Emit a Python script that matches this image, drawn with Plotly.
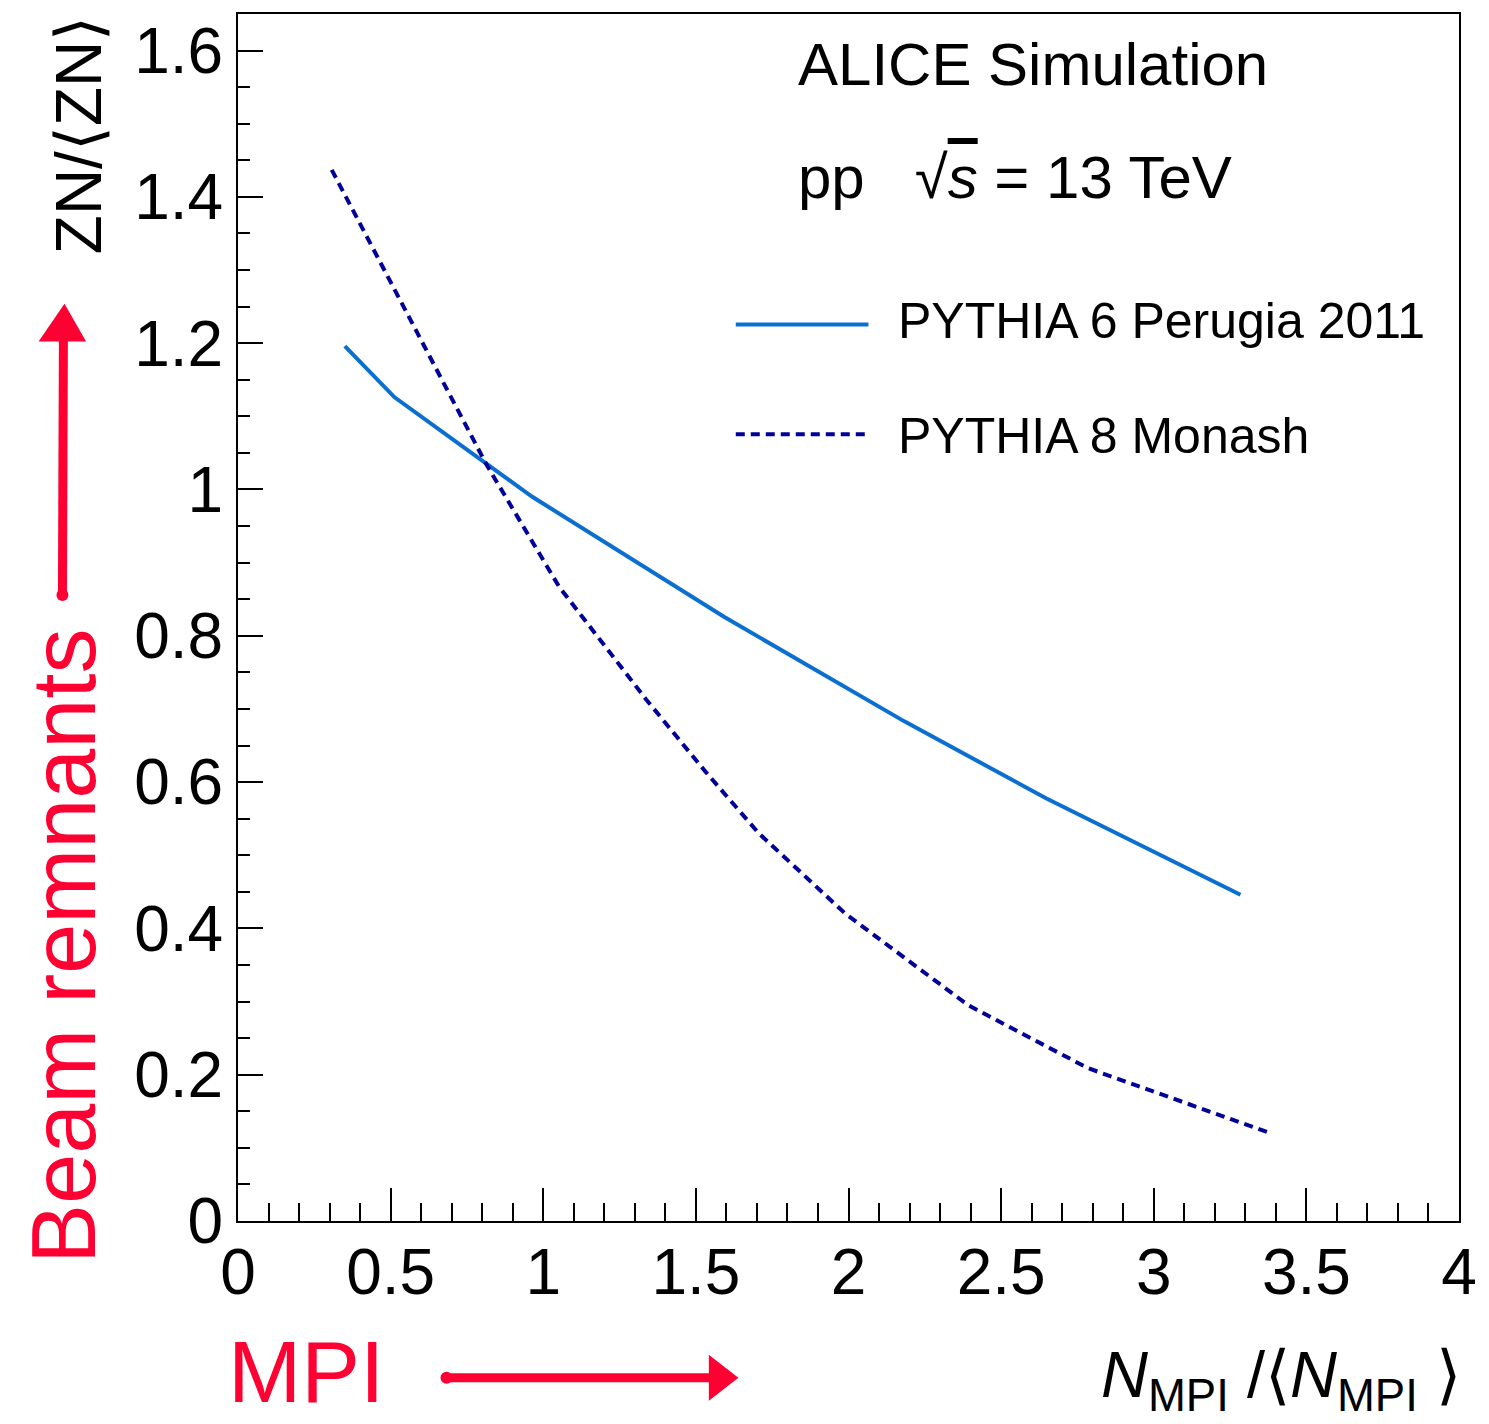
import plotly.graph_objects as go

# ZN/<ZN> versus N_MPI/<N_MPI> from two PYTHIA tunes
p6_x = [0.350, 0.513, 0.964, 1.592, 2.183, 2.647, 3.284]
p6_y = [1.196, 1.126, 0.990, 0.826, 0.683, 0.578, 0.446]

p8_x = [0.307, 0.814, 1.052, 1.337, 1.530, 1.706, 1.990, 2.392, 2.784, 3.382]
p8_y = [1.437, 1.034, 0.867, 0.713, 0.615, 0.530, 0.420, 0.295, 0.209, 0.120]

x_tick_vals = [0, 0.5, 1, 1.5, 2, 2.5, 3, 3.5, 4]
x_tick_text = ["0", "0.5", "1", "1.5", "2", "2.5", "3", "3.5", "4"]
y_tick_vals = [0, 0.2, 0.4, 0.6, 0.8, 1.0, 1.2, 1.4, 1.6]
y_tick_text = ["0", "0.2", "0.4", "0.6", "0.8", "1", "1.2", "1.4", "1.6"]

series_names = ["PYTHIA 6 Perugia 2011", "PYTHIA 8 Monash"]

W, H = 1489, 1424
ML, MR, MT, MB = 238, 27, 12, 203
PW, PH = W - ML - MR, H - MT - MB

FONT = "Liberation Sans, Arial, Helvetica, sans-serif"
BLUE = "#0a6fd0"
NAVY = "#000099"
RED = "#ff0033"


def px(xp):
    return (xp - ML) / PW


def py(yp):
    return (H - MB - yp) / PH


fig = go.Figure()
fig.add_trace(go.Scatter(x=p6_x, y=p6_y, mode="lines", name=series_names[0],
                         line=dict(color=BLUE, width=4), showlegend=False))
fig.add_trace(go.Scatter(x=p8_x, y=p8_y, mode="lines", name=series_names[1],
                         line=dict(color=NAVY, width=4, dash="9px,6px"), showlegend=False))

axis_common = dict(showline=True, linecolor="black", linewidth=2, mirror=True,
                   showgrid=False, zeroline=False, ticks="inside", tickcolor="black",
                   tickwidth=2, tickfont=dict(family=FONT, size=64, color="black"))

fig.update_xaxes(range=[0, 4], tickvals=x_tick_vals, ticktext=x_tick_text,
                 ticklen=33, ticklabelstandoff=-6,
                 minor=dict(ticks="inside", ticklen=18, dtick=0.1, tick0=0,
                            tickcolor="black", tickwidth=2, showgrid=False),
                 **axis_common)
fig.update_yaxes(range=[0, 1.65], tickvals=y_tick_vals, ticktext=y_tick_text,
                 ticklen=25, ticklabelstandoff=0,
                 minor=dict(ticks="inside", ticklen=12, dtick=0.05, tick0=0,
                            tickcolor="black", tickwidth=2, showgrid=False),
                 **axis_common)

annotations = [
    dict(text="ALICE Simulation", x=px(797), y=py(63), xanchor="left", yanchor="middle",
         font=dict(size=60)),
    dict(text="pp   √<span style='text-decoration:overline'><i>s</i></span> = 13 TeV",
         x=px(797), y=py(176), xanchor="left", yanchor="middle", font=dict(size=60)),
    dict(text=series_names[0], x=px(898), y=py(320), xanchor="left", yanchor="middle",
         font=dict(size=50)),
    dict(text=series_names[1], x=px(898), y=py(435), xanchor="left", yanchor="middle",
         font=dict(size=50)),
    dict(text="<i>N</i><sub>MPI</sub> /⟨<i>N</i><sub>MPI</sub> ⟩", x=px(1466), y=py(1380),
         xanchor="right", yanchor="middle", font=dict(size=65)),
    dict(text="ZN/⟨ZN⟩", x=px(78), y=py(133), xanchor="center", yanchor="middle",
         textangle=-90, font=dict(size=64)),
    dict(text="Beam remnants", x=px(64), y=py(946), xanchor="center", yanchor="middle",
         textangle=-90, font=dict(size=90, color=RED)),
    dict(text="MPI", x=px(306), y=py(1423), xanchor="center", yanchor="bottom",
         font=dict(size=88, color=RED)),
]
for a in annotations:
    a.update(xref="paper", yref="paper", showarrow=False)
    a["font"].setdefault("color", "black")
    a["font"]["family"] = FONT

shapes = [
    # legend samples
    dict(type="line", x0=px(737), x1=px(870), y0=py(323), y1=py(323),
         line=dict(color=BLUE, width=4)),
    dict(type="line", x0=px(737), x1=px(870), y0=py(433), y1=py(433),
         line=dict(color=NAVY, width=4, dash="9px,6px")),
    # vertical red arrow
    dict(type="line", x0=px(62), x1=px(63), y0=py(592), y1=py(332),
         line=dict(color=RED, width=9)),
    dict(type="path", path=f"M {px(64)} {py(304)} L {px(40)} {py(339)} L {px(84)} {py(339)} Z",
         fillcolor=RED, line=dict(color=RED, width=2)),
    dict(type="circle", x0=px(56), x1=px(68), y0=py(588), y1=py(600),
         fillcolor=RED, line=dict(color=RED, width=0)),
    # horizontal red arrow
    dict(type="line", x0=px(447), x1=px(714), y0=py(1378), y1=py(1378),
         line=dict(color=RED, width=9)),
    dict(type="path", path=f"M {px(738)} {py(1378)} L {px(711)} {py(1357)} L {px(711)} {py(1399)} Z",
         fillcolor=RED, line=dict(color=RED, width=2)),
    dict(type="circle", x0=px(441), x1=px(453), y0=py(1372), y1=py(1384),
         fillcolor=RED, line=dict(color=RED, width=0)),
]
for s in shapes:
    s.update(xref="paper", yref="paper")

fig.update_layout(width=W, height=H, margin=dict(l=ML, r=MR, t=MT, b=MB),
                  paper_bgcolor="white", plot_bgcolor="white",
                  font=dict(family=FONT, color="black"),
                  annotations=annotations, shapes=shapes)

fig.write_html("out.html")
